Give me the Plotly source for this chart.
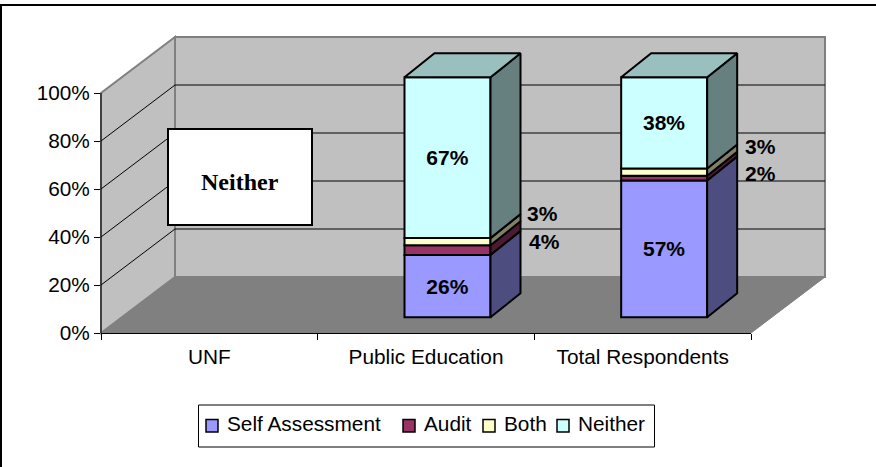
import plotly.graph_objects as go

categories = ['UNF', 'Public Education', 'Total Respondents']
series_names = ['Self Assessment', 'Audit', 'Both', 'Neither']
self_assessment = [None, 26, 57]
audit = [None, 4, 2]
both = [None, 3, 3]
neither = [None, 67, 38]
series_values = [self_assessment, audit, both, neither]
front_colors = ['#9999ff', '#993366', '#ffffcc', '#ccffff']
side_colors = ['#4d4d80', '#4d1a33', '#808066', '#668080']
top_color = '#99bfbf'
y_ticks = [0, 20, 40, 60, 80, 100]

WIDTH, HEIGHT = 876, 467
# front plane of the fake 3d box, in pixels
LEFT, RIGHT, BOTTOM, TOP = 101, 751, 333, 93
DEPTH_X, DEPTH_Y = 74, 56
Y_MAX = 125  # axis runs past 100 so the raised bars are not cut off
px_x = (RIGHT - LEFT) / len(categories)
px_y = (BOTTOM - TOP) / 100

BAR_WIDTH = 86 / px_x
near_dx = 21.5 / px_x
near_dy = 15.7 / px_y
far_dx = 30 / px_x
far_dy = 24 / px_y


def px(x):
    return x / WIDTH


def py(y):
    return 1 - y / HEIGHT


def polygon(points, fill, line='#808080', width=2):
    path = 'M' + ' L'.join(f'{px(x):.5f},{py(y):.5f}' for x, y in points) + ' Z'
    return dict(type='path', xref='paper', yref='paper', path=path, fillcolor=fill,
                line=dict(color=line, width=width), layer='below')


def paper_line(x0, y0, x1, y1, width=1):
    return dict(type='line', xref='paper', yref='paper', x0=px(x0), y0=py(y0), x1=px(x1), y1=py(y1),
                line=dict(color='black', width=width), layer='below')


fig = go.Figure()

for s, (name, values, color) in enumerate(zip(series_names, series_values, front_colors)):
    bases = [sum(v[i] or 0 for v in series_values[:s]) + near_dy for i in range(len(categories))]
    fig.add_trace(go.Bar(
        x=categories, y=values, base=bases, name=name,
        width=BAR_WIDTH, offset=near_dx - BAR_WIDTH / 2,
        marker=dict(color=color, line=dict(color='black', width=2)),
        text=[f'{v}%' if v and v > 5 else '' for v in values],
        textposition='inside', insidetextanchor='middle', textangle=0,
        textfont=dict(family='Liberation Sans', size=21, color='black', weight='bold'),
        cliponaxis=False, hoverinfo='skip', showlegend=False,
    ))

# side and top faces of the boxes
for c in range(len(categories)):
    total = 0
    x1 = c + near_dx + BAR_WIDTH / 2
    x2 = x1 + far_dx
    for s, values in enumerate(series_values):
        v = values[c]
        if v is None:
            continue
        y1 = total + near_dy
        y2 = y1 + v
        fig.add_trace(go.Scatter(
            x=[x1, x2, x2, x1, x1],
            y=[y1, y1 + far_dy, y2 + far_dy, y2, y1],
            xaxis='x2', mode='lines', fill='toself', fillcolor=side_colors[s],
            line=dict(color='black', width=2), showlegend=False,
            cliponaxis=False, hoverinfo='skip',
        ))
        total += v
    if total:
        x0 = x1 - BAR_WIDTH
        y1 = total + near_dy
        fig.add_trace(go.Scatter(
            x=[x0, x1, x2, x0 + far_dx, x0], y=[y1, y1, y1 + far_dy, y1 + far_dy, y1],
            xaxis='x2', mode='lines', fill='toself', fillcolor=top_color,
            line=dict(color='black', width=2), showlegend=False,
            cliponaxis=False, hoverinfo='skip',
        ))

shapes = [
    paper_line(0, 5, WIDTH, 5, 2),
    paper_line(1, 4, 1, HEIGHT, 2),
    polygon([(LEFT, BOTTOM), (LEFT + DEPTH_X, BOTTOM - DEPTH_Y), (LEFT + DEPTH_X, TOP - DEPTH_Y), (LEFT, TOP)], '#c0c0c0'),
    polygon([(LEFT + DEPTH_X, BOTTOM - DEPTH_Y), (RIGHT + DEPTH_X, BOTTOM - DEPTH_Y),
             (RIGHT + DEPTH_X, TOP - DEPTH_Y), (LEFT + DEPTH_X, TOP - DEPTH_Y)], '#c0c0c0'),
    polygon([(LEFT, BOTTOM), (RIGHT, BOTTOM), (RIGHT + DEPTH_X, BOTTOM - DEPTH_Y),
             (LEFT + DEPTH_X, BOTTOM - DEPTH_Y)], '#808080', line='#808080', width=1),
    paper_line(LEFT, BOTTOM, LEFT, TOP),
]
for v in y_ticks[1:-1]:
    y = BOTTOM - v * px_y
    shapes.append(paper_line(LEFT, y, LEFT + DEPTH_X, y - DEPTH_Y))
    shapes.append(paper_line(LEFT + DEPTH_X, y - DEPTH_Y, RIGHT + DEPTH_X, y - DEPTH_Y))

# text box over the UNF column
shapes.append(dict(type='rect', xref='paper', yref='paper', x0=px(168), x1=px(312), y0=py(225), y1=py(129),
                   fillcolor='white', line=dict(color='black', width=2), layer='above'))
annotations = [
    dict(xref='paper', yref='paper', x=px(240), y=py(182), xanchor='center', yanchor='middle',
         text='<b>Neither</b>', showarrow=False,
         font=dict(family='Liberation Serif', size=24, color='black')),
]

# small segments are labelled beside the bar
side_labels = [(audit[1], 544, 241), (both[1], 542, 213), (audit[2], 760, 173), (both[2], 760, 147)]
for value, x, y in side_labels:
    annotations.append(dict(xref='paper', yref='paper', x=px(x), y=py(y), xanchor='center', yanchor='middle',
                            text=f'<b>{value}%</b>', showarrow=False,
                            font=dict(family='Liberation Sans', size=21, color='black')))

# legend, laid out by hand to keep the original spacing
shapes.append(dict(type='rect', xref='paper', yref='paper', x0=px(198.5), x1=px(654.5), y0=py(447), y1=py(405),
                   fillcolor='white', line=dict(color='black', width=1), layer='above'))
legend_x = [206, 403, 483, 557]
for name, color, x in zip(series_names, front_colors, legend_x):
    shapes.append(dict(type='rect', xref='paper', yref='paper', x0=px(x), x1=px(x + 12), y0=py(432), y1=py(419.5),
                       fillcolor=color, line=dict(color='black', width=1.5), layer='above'))
    annotations.append(dict(xref='paper', yref='paper', x=px(x + 19), y=py(423.5), xanchor='left', yanchor='middle',
                            text=name, showarrow=False, font=dict(family='Liberation Sans', size=20.8, color='black')))

fig.update_layout(
    width=WIDTH, height=HEIGHT, margin=dict(l=0, r=0, t=0, b=0),
    paper_bgcolor='white', plot_bgcolor='rgba(0,0,0,0)',
    barmode='overlay', font=dict(family='Liberation Sans', size=20.8, color='black'),
    xaxis=dict(type='category', domain=[px(LEFT), px(RIGHT)], range=[-0.5, len(categories) - 0.5],
               categoryorder='array', categoryarray=categories,
               tickson='boundaries', ticks='outside', ticklen=6, tickcolor='black',
               ticklabelstandoff=5, showline=True, linecolor='black', showgrid=False, zeroline=False,
               automargin=False, fixedrange=True),
    xaxis2=dict(overlaying='x', domain=[px(LEFT), px(RIGHT)], range=[-0.5, len(categories) - 0.5],
                visible=False, automargin=False, fixedrange=True),
    yaxis=dict(domain=[py(BOTTOM), py(BOTTOM - Y_MAX * px_y)], range=[0, Y_MAX], tickvals=y_ticks,
               ticktext=[f'{v}%' for v in y_ticks], ticks='outside', ticklen=6, tickcolor='black',
               showline=False, showgrid=False, zeroline=False, automargin=False, fixedrange=True),
    shapes=shapes,
    annotations=annotations,
    showlegend=False,
)

fig.write_html('out.html', config=dict(displayModeBar=False),
               post_script="document.body.style.margin='0';document.body.style.overflow='hidden';")
